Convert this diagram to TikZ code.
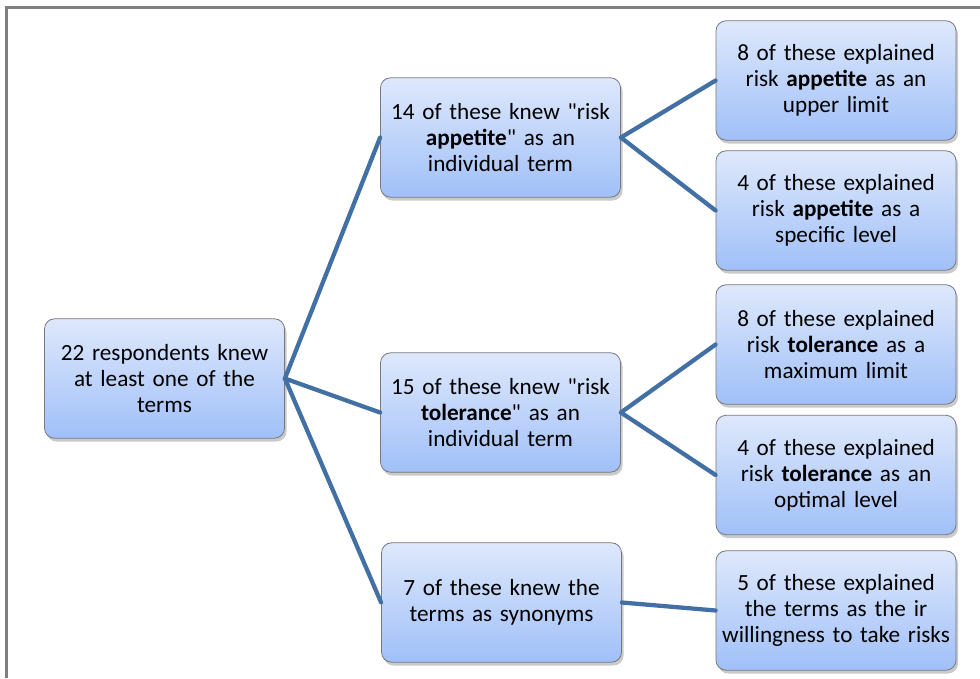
\documentclass[tikz,border=0pt]{standalone}
\usepackage{fontspec}
\setmainfont{Carlito}[Ligatures=TeXOff]
\usetikzlibrary{shadows}
\definecolor{linkblue}{RGB}{67,112,164}
\definecolor{boxtop}{RGB}{222,232,252}
\definecolor{boxbot}{RGB}{160,192,248}
\definecolor{boxedge}{RGB}{120,120,125}
\definecolor{framegray}{RGB}{128,128,128}
\tikzset{
  box/.style={draw=boxedge, line width=0.6pt, rounded corners=7.5pt,
    top color=boxtop, bottom color=boxbot,
    drop shadow={shadow xshift=1.5pt, shadow yshift=-2.5pt, opacity=0.35, fill=black!60},
    minimum width=180pt, minimum height=89.5pt, text width=178pt, align=center,
    inner sep=0pt, font=\fontsize{17.4}{19.5}\selectfont},
  link/.style={draw=linkblue, line width=3.2pt, line cap=round}
}
\begin{document}
\begin{tikzpicture}[x=0.75pt,y=-0.75pt]
\useasboundingbox (0,0) rectangle (980,678);
\draw[framegray, line width=1.6pt] (6.5,678) -- (6.5,7.5) -- (980,7.5);
\node[box] (root) at (164.5,378.5) {22 respondents knew\\at least one of the\\terms};
\node[box] (b1) at (500.5,137.5) {14 of these knew "risk\\\textbf{appetite}" as an\\individual term};
\node[box] (b2) at (500.5,412.5) {15 of these knew "risk\\\textbf{tolerance}" as an\\individual term};
\node[box] (b3) at (501.5,602.5) {7 of these knew the\\terms as synonyms};
\node[box] (r1) at (836,80.5) {8 of these explained\\risk \textbf{appetite} as an\\upper limit};
\node[box] (r2) at (836,210.5) {4 of these explained\\risk \textbf{appetite} as a\\specific level};
\node[box] (r3) at (836,344.5) {8 of these explained\\risk \textbf{tolerance} as a\\maximum limit};
\node[box] (r4) at (836,475) {4 of these explained\\risk \textbf{tolerance} as an\\optimal level};
\node[box] (r5) at (836,610.5) {5 of these explained\\the terms as the ir\\willingness to take risks};
\draw[link] (root.east) -- (b1.west);
\draw[link] (root.east) -- (b2.west);
\draw[link] (root.east) -- (b3.west);
\draw[link] (b1.east) -- (r1.west);
\draw[link] (b1.east) -- (r2.west);
\draw[link] (b2.east) -- (r3.west);
\draw[link] (b2.east) -- (r4.west);
\draw[link] (b3.east) -- (r5.west);
\end{tikzpicture}
\end{document}
